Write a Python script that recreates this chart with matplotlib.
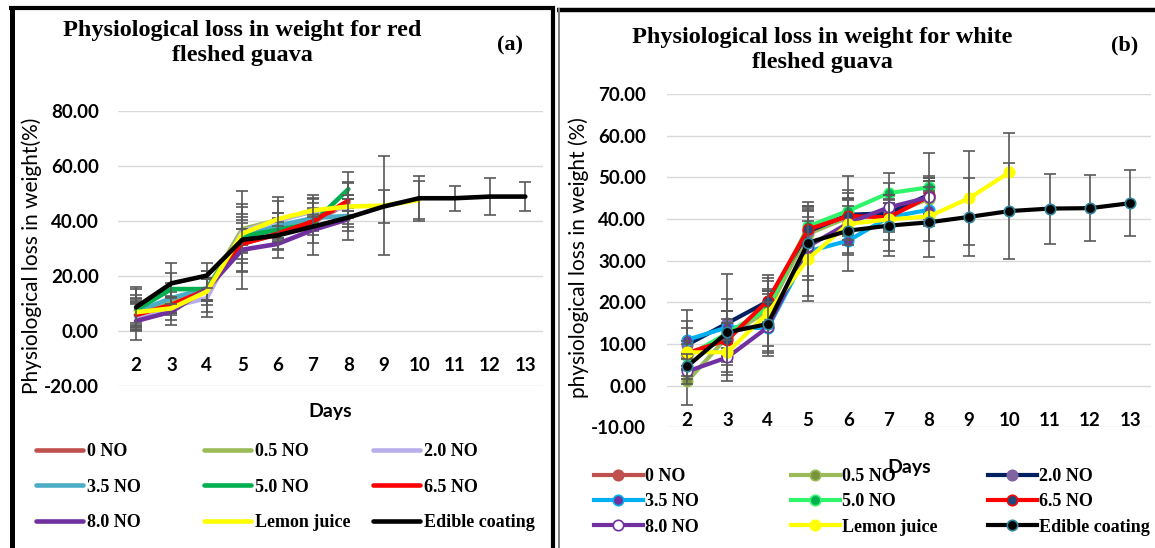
import matplotlib
matplotlib.use('Agg')
import matplotlib.pyplot as plt
from matplotlib.lines import Line2D
from matplotlib.font_manager import FontProperties

W, H = 1155, 548

days = [2, 3, 4, 5, 6, 7, 8, 9, 10, 11, 12, 13]
tick_labels = [str(d) for d in days]
labels = ["0 NO", "0.5 NO", "2.0 NO", "3.5 NO", "5.0 NO", "6.5 NO",
          "8.0 NO", "Lemon juice", "Edible coating"]

# ---------------- (a) red fleshed guava ----------------
red_0no = [6.0, 9.8, 15.0, 31.8, 35.0, 39.5, 46.5]
red_05no = [7.0, 11.0, 15.0, 37.0, 40.2, 43.5, 45.0]
red_20no = [5.2, 8.8, 11.9, 36.3, 40.0, 43.5, 44.8]
red_35no = [7.0, 11.9, 15.5, 34.3, 38.2, 41.0, 41.8]
red_50no = [7.6, 15.2, 15.2, 34.3, 36.7, 39.2, 51.5]
red_65no = [5.8, 9.5, 14.9, 31.6, 35.3, 39.8, 47.3]
red_80no = [3.6, 7.0, 15.2, 29.5, 31.6, 36.7, 40.6]
red_lemon = [6.8, 8.2, 14.3, 35.3, 40.6, 43.8, 45.2, 45.5, 47.6]
red_edible = [8.6, 17.3, 20.1, 33.1, 34.7, 37.9, 41.2, 45.2, 48.2, 48.2, 48.8, 48.8]

red_0no_err = [5.5, 3.0, 4.0, 10.5, 5.7, 3.0, 3.0]
red_05no_err = [6.0, 3.0, 4.0, 8.2, 6.9, 4.3, 3.0]
red_20no_err = [5.0, 3.0, 6.9, 5.0, 3.0, 3.0, 3.0]
red_35no_err = [5.0, 5.5, 6.1, 6.0, 2.8, 3.0, 3.0]
red_50no_err = [7.6, 5.8, 4.0, 5.0, 3.0, 3.0, 6.1]
red_65no_err = [4.0, 3.0, 4.0, 5.3, 3.0, 4.8, 6.4]
red_80no_err = [6.9, 4.9, 4.0, 7.7, 2.0, 4.7, 3.0]
red_lemon_err = [4.0, 4.2, 7.3, 10.8, 8.0, 5.7, 8.9, 18.0, 7.0]
red_edible_err = [7.2, 7.5, 4.5, 17.8, 8.3, 10.3, 8.1, 6.0, 8.2, 4.6, 6.6, 5.3]

red_series = [red_0no, red_05no, red_20no, red_35no, red_50no, red_65no,
              red_80no, red_lemon, red_edible]
red_errors = [red_0no_err, red_05no_err, red_20no_err, red_35no_err, red_50no_err,
              red_65no_err, red_80no_err, red_lemon_err, red_edible_err]
red_colors = ["#C0504D", "#9BBB59", "#B7AEEA", "#4BACC6", "#00B050", "#FF0000",
              "#7030A0", "#FFFF00", "#000000"]

# ---------------- (b) white fleshed guava ----------------
wht_0no = [7.6, 11.4, 19.6, 37.2, 40.7, 40.8, 45.0]
wht_05no = [1.0, 11.8, 18.0, 36.4, 40.4, 41.0, 44.9]
wht_20no = [9.8, 15.0, 20.2, 37.0, 41.0, 41.4, 45.8]
wht_35no = [11.0, 14.0, 13.8, 32.2, 34.8, 40.4, 42.2]
wht_50no = [7.0, 12.6, 18.6, 38.2, 42.0, 46.2, 47.6]
wht_65no = [7.8, 11.0, 20.4, 37.5, 40.7, 40.4, 45.4]
wht_80no = [3.4, 6.8, 14.0, 33.4, 39.0, 42.8, 45.2]
wht_lemon = [8.0, 8.0, 17.4, 30.4, 38.8, 39.9, 40.6, 45.0, 51.2]
wht_edible = [4.6, 12.8, 14.8, 34.3, 37.2, 38.4, 39.2, 40.5, 41.9, 42.5, 42.6, 43.8]

wht_0no_err = [3.0, 3.0, 3.5, 5.0, 4.0, 3.0, 4.0]
wht_05no_err = [5.6, 6.2, 4.0, 5.5, 4.5, 3.5, 5.0]
wht_20no_err = [5.8, 11.8, 5.0, 6.0, 3.5, 4.0, 4.5]
wht_35no_err = [7.2, 4.0, 4.4, 11.9, 3.0, 3.5, 4.0]
wht_50no_err = [3.0, 3.5, 4.0, 4.5, 8.2, 4.9, 8.3]
wht_65no_err = [3.0, 4.0, 5.4, 5.5, 4.3, 8.2, 4.5]
wht_80no_err = [3.0, 4.2, 6.1, 7.0, 4.0, 3.0, 4.0]
wht_lemon_err = [5.8, 7.0, 9.2, 9.0, 7.4, 5.0, 6.0, 11.2, 9.5]
wht_edible_err = [3.0, 7.9, 7.8, 8.9, 9.8, 7.4, 8.4, 9.3, 11.5, 8.4, 8.0, 8.0]

wht_series = [wht_0no, wht_05no, wht_20no, wht_35no, wht_50no, wht_65no,
              wht_80no, wht_lemon, wht_edible]
wht_errors = [wht_0no_err, wht_05no_err, wht_20no_err, wht_35no_err, wht_50no_err,
              wht_65no_err, wht_80no_err, wht_lemon_err, wht_edible_err]
wht_line_colors = ["#C0504D", "#9BBB59", "#002060", "#00B0F0", "#2EF56A", "#FF0000",
                   "#7030A0", "#FFFF00", "#000000"]
wht_marker_faces = ["#C0504D", "#77933C", "#8064A2", "#7030A0", "#00B050", "#1F497D",
                    "#FFFFFF", "#FFFF00", "#000000"]
wht_marker_edges = ["#C0504D", "#9BBB59", "#8064A2", "#00B0F0", "#2EF56A", "#FF0000",
                    "#7030A0", "#FFFF00", "#31859C"]

tick_fp = FontProperties(family="Lato", weight="bold", size=13.5)
serif_bold = dict(family="Liberation Serif", weight="bold")

fig = plt.figure(figsize=(W / 100, H / 100), dpi=100)
fig.patch.set_facecolor("white")


def fx(x):
    return x / W


def fy(y):
    return 1 - y / H


def style_axes(ax, ylim, yticks, ylab, ylab_xy, days_y, pad_y):
    for s in ax.spines.values():
        s.set_visible(False)
    ax.spines["bottom"].set_position(("data", 0))
    ax.set_xlim(1.5, 13.5)
    ax.set_ylim(*ylim)
    ax.set_yticks(yticks)
    ax.set_yticklabels([f"{v:.2f}" for v in yticks])
    ax.set_xticks(days)
    ax.set_xticklabels(tick_labels)
    ax.grid(axis="y", color="#D9D9D9", lw=1.0, zorder=0)
    ax.set_axisbelow(True)
    ax.tick_params(axis="both", length=0)
    ax.tick_params(axis="y", pad=pad_y)
    ax.tick_params(axis="x", pad=19)
    for lbl in ax.get_xticklabels() + ax.get_yticklabels():
        lbl.set_fontproperties(tick_fp)
    ax.set_ylabel(ylab, family="Lato", size=15)
    ax.yaxis.set_label_coords(*ylab_xy)
    ax.set_xlabel("Days", family="Lato", weight="bold", size=14)
    ax.xaxis.set_label_coords(0.5, days_y)
    ax.xaxis.label.set_va("center")
    ax.yaxis.label.set_va("center")


# ---------- left panel ----------
axL = fig.add_axes([fx(118.3), fy(386), (543 - 118.3) / W, (386 - 110.7) / H])
for i, (vals, errs) in enumerate(zip(red_series, red_errors)):
    xs = days[:len(vals)]
    axL.errorbar(xs, vals, yerr=errs, fmt="none", ecolor="#595959", elinewidth=1.2,
                 capsize=4.2, capthick=1.2, zorder=2 + 2 * i)
    axL.plot(xs, vals, color=red_colors[i], lw=3.3, solid_joinstyle="round",
             solid_capstyle="round", zorder=3 + 2 * i)
style_axes(axL, (-20, 80), [-20, 0, 20, 40, 60, 80],
           "Physiological loss in weight(%)", (-0.205, 0.472), -0.094, 14)

# ---------- right panel ----------
axR = fig.add_axes([fx(667), fy(427.3), 483.5 / W, 333.3 / H])
for i, (vals, errs) in enumerate(zip(wht_series, wht_errors)):
    xs = days[:len(vals)]
    axR.errorbar(xs, vals, yerr=errs, fmt="none", ecolor="#595959", elinewidth=1.2,
                 capsize=4.2, capthick=1.2, zorder=2 + 2 * i)
    axR.plot(xs, vals, color=wht_line_colors[i], lw=3.0, marker="o", ms=7.5,
             mfc=wht_marker_faces[i], mec=wht_marker_edges[i], mew=1.2,
             solid_joinstyle="round", zorder=3 + 2 * i)
style_axes(axR, (-10, 70), [-10, 0, 10, 20, 30, 40, 50, 60, 70],
           "physiological loss in weight (%)", (-0.182, 0.51), -0.122, 15)

# ---------- titles ----------
fig.text(fx(242), fy(43), "Physiological loss in weight for red\nfleshed guava",
         ha="center", va="center", size=17.5, linespacing=1.22, **serif_bold)
fig.text(fx(510), fy(45), "(a)", ha="center", va="center", size=16, **serif_bold)
fig.text(fx(822), fy(50), "Physiological loss in weight for white\nfleshed guava",
         ha="center", va="center", size=17.5, linespacing=1.22, **serif_bold)
fig.text(fx(1125), fy(45), "(b)", ha="center", va="center", size=16, **serif_bold)

# ---------- legends ----------
leg_prop = FontProperties(family="Liberation Serif", weight="bold", size=13)
cols = [[0, 3, 6], [1, 4, 7], [2, 5, 8]]

for c, x0 in zip(cols, [36, 204, 373]):
    hs = [Line2D([], [], color=red_colors[k], lw=3.3, solid_capstyle="round") for k in c]
    fig.legend(hs, [labels[k] for k in c], loc="center left",
               bbox_to_anchor=(fx(x0), fy(487)), frameon=False, borderpad=0,
               borderaxespad=0, handlelength=2.6, handletextpad=0.2,
               labelspacing=1.02, prop=leg_prop)

for c, x0 in zip(cols, [594, 791, 988]):
    hs = [Line2D([], [], color=wht_line_colors[k], lw=3.0, marker="o", ms=7.5,
                 mfc=wht_marker_faces[k], mec=wht_marker_edges[k], mew=1.2)
          for k in c]
    fig.legend(hs, [labels[k] for k in c], loc="center left",
               bbox_to_anchor=(fx(x0), fy(502)), frameon=False, borderpad=0,
               borderaxespad=0, handlelength=2.7, handletextpad=0.15,
               labelspacing=0.45, prop=leg_prop)

# ---------- panel borders ----------
def fline(x1, y1, x2, y2, lw, color="black"):
    fig.add_artist(Line2D([fx(x1), fx(x2)], [fy(y1), fy(y2)], lw=lw, color=color,
                          solid_capstyle="butt"))

fline(9, 8, 555, 8, 3.0)
fline(12, 6, 12, 548, 3.6)
fline(553, 6, 553, 548, 3.0)
fline(557, 9.5, 1155, 9.5, 3.2)
fline(559, 8, 559, 548, 1.4, "#7F7F7F")

fig.savefig("out.png", dpi=100, facecolor="white")
